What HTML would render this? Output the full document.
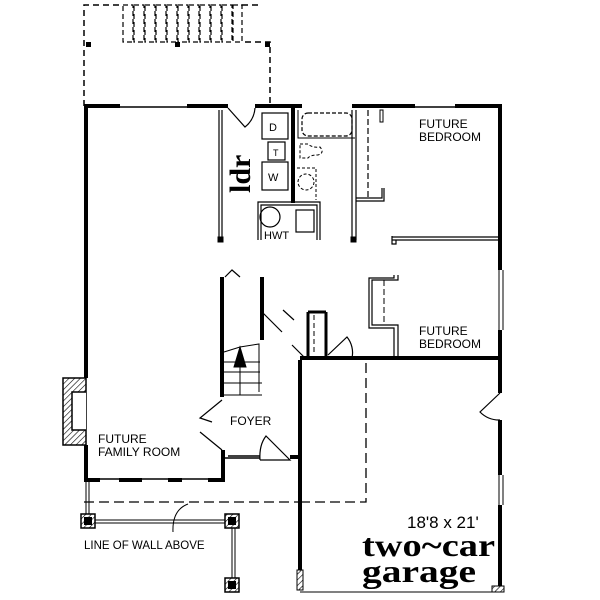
<!DOCTYPE html>
<html><head><meta charset="utf-8"><style>
html,body{margin:0;padding:0;background:#fff;}
svg{display:block}
text{font-family:"Liberation Sans",sans-serif;fill:#000}
</style></head><body>
<svg width="600" height="600" viewBox="0 0 600 600" xmlns="http://www.w3.org/2000/svg">
<defs><pattern id="h" width="4" height="4" patternUnits="userSpaceOnUse" patternTransform="rotate(45)"><rect width="4" height="4" fill="#fff"/><line x1="0" y1="0" x2="0" y2="4" stroke="#000" stroke-width="1.2"/></pattern></defs>
<g fill="none" stroke="#000">
<path d="M84 106 V5 H122 M242 5 H262 M245 42 H270 V106" stroke-width="1.5" stroke-dasharray="6,4"/>
<g stroke-width="1.2" stroke-dasharray="5,3">
<rect x="123" y="5" width="10" height="37"/><rect x="134" y="5" width="10" height="37"/><rect x="145" y="5" width="10" height="37"/><rect x="156" y="5" width="10" height="37"/><rect x="167" y="5" width="10" height="37"/><rect x="178" y="5" width="10" height="37"/><rect x="189" y="5" width="10" height="37"/><rect x="200" y="5" width="10" height="37"/><rect x="211" y="5" width="10" height="37"/><rect x="222" y="5" width="10" height="37"/><rect x="233" y="5" width="9" height="37"/>
</g>
<rect x="86" y="42" width="5" height="5" fill="#000" stroke="none"/>
<rect x="175" y="42" width="5" height="5" fill="#000" stroke="none"/>
<rect x="265" y="42" width="5" height="5" fill="#000" stroke="none"/>
<path d="M84 106 H120 M187 106 H228 M255 106 H302 M352 106 H415 M455 106 H502" stroke-width="4"/>
<path d="M120 107 H187 M415 107 H455" stroke-width="1.5"/>
<path d="M86 106 V378 M86 445 V480" stroke-width="4"/>
<path d="M84 480 H100 M119 480 H142 M168 480 H182 M208 480 H225 M223 480 V450" stroke-width="4"/>
<path d="M100 479 H119 M142 479 H168 M182 479 H208" stroke-width="1.5"/>
<path d="M500 106 V270 M500 330 V393 M500 420 V475 M500 505 V590" stroke-width="4"/>
<path d="M499 270 V330 M503 270 V330 M499 475 V505 M503 475 V505" stroke-width="1"/>
<path d="M300 360 V590 M300 358 H502" stroke-width="4"/>
<path d="M300 592 H502" stroke-width="1"/>
<rect x="63" y="378" width="23" height="67" fill="url(#h)" stroke-width="1.5"/>
<path d="M86 392 H72 V430 H86" stroke-width="1.5" fill="#fff"/>
<path d="M219 110 V240 M222 110 V240" stroke-width="1.2"/>
<rect x="218" y="237" width="5" height="5" fill="#000"/>
<path d="M228 108 L245 127 A27 27 0 0 0 255 108" stroke-width="1.2"/>
<rect x="262" y="113" width="26" height="26" stroke-width="1.2"/>
<rect x="268" y="142" width="17" height="18" stroke-width="1.2"/>
<rect x="262" y="162" width="26" height="28" stroke-width="1.2"/>
<path d="M293 106 V203" stroke-width="4"/>
<path d="M258 240 V202 H320 V240 M261 240 V205 H317 V240" stroke-width="1.2"/>
<circle cx="270" cy="217" r="10" stroke-width="1.2"/>
<rect x="296" y="210" width="18" height="22" stroke-width="1.2"/>
<rect x="302" y="113" width="50" height="23" rx="6" stroke-width="1.2" stroke-dasharray="4,2"/>
<path d="M298 110 V138 H355" stroke-width="1"/>
<path d="M300 144 h8 q4 4 12 3 q5 6 -2 8 q-8 0 -10 3 h-8 z" stroke-width="1" stroke-dasharray="3,2"/>
<path d="M297 168 H316 V200" stroke-width="1" stroke-dasharray="3,2"/>
<circle cx="306" cy="182" r="8" stroke-width="1" stroke-dasharray="3,2"/>
<path d="M352 110 V240 M356 110 V240" stroke-width="1.2"/>
<rect x="351" y="237" width="5" height="5" fill="#000"/>
<path d="M368 110 V198" stroke-width="1.2" stroke-dasharray="6,3"/>
<path d="M356 198 H382 V188 M356 201 H384 V188" stroke-width="1.2"/>
<rect x="380" y="110" width="3" height="12" stroke-width="1"/>
<path d="M392 237 H500 M392 240 H500" stroke-width="1.2"/>
<path d="M392 236 V244 H396 V240" stroke-width="1.2"/>
<path d="M398 275 V280 H372 V325 H398 V358 M394 275 V278 H369 V328 H394 V358" stroke-width="1.2"/>
<path d="M384 280 V325" stroke-width="1" stroke-dasharray="6,3"/>
<path d="M222 277 V397 M262 277 V340" stroke-width="4"/>
<path d="M225 277 L232 270 L240 277" stroke-width="1.2"/>
<path d="M224 352 L240 347 L259 344 V392" stroke-width="1"/>
<path d="M224 362 H260 M224 372 H260 M224 383 H262 M224 395 H262 M240 395 V350" stroke-width="1"/>
<path d="M240 347 L234 367 H246 Z" fill="#000"/>
<path d="M262 312 L282 332 M283 310 L294 320 M292 345 L304 357" stroke-width="1.2"/>
<path d="M308 312 V358 M326 312 H308 M326 312 V358" stroke-width="3"/>
<path d="M314 315 V355" stroke-width="1" stroke-dasharray="5,3"/>
<path d="M328 355 L347 337 A25 25 0 0 1 352 358" stroke-width="1.2"/>
<path d="M222 400 L200 418 L212 422 M200 432 L222 450" stroke-width="1.2"/>
<path d="M228 456 H260 M225 458 H260" stroke-width="1.5"/>
<path d="M260 460 H290 L266 436 Q259 445 260 460" stroke-width="1.2"/>
<path d="M290 457 H300" stroke-width="4"/>
<path d="M84 502 H300 M300 502 H366 V360" stroke-width="1.3" stroke-dasharray="10,5"/>
<path d="M173 532 Q172 510 188 504" stroke-width="1"/>
<path d="M86 482 V520 M89 482 V520" stroke-width="1"/>
<path d="M95 520 H228 M95 523 H228 M232 526 V580 M235 526 V580" stroke-width="1"/>
<rect x="81" y="514" width="14" height="14" fill="url(#h)" stroke-width="1.5"/>
<rect x="225" y="514" width="14" height="14" fill="url(#h)" stroke-width="1.5"/>
<rect x="225" y="578" width="14" height="14" fill="url(#h)" stroke-width="1.5"/>
<rect x="84" y="517" width="8" height="8" fill="#000" stroke="none"/>
<rect x="228" y="517" width="8" height="8" fill="#000" stroke="none"/>
<rect x="228" y="581" width="8" height="8" fill="#000" stroke="none"/>
<rect x="297" y="570" width="6" height="20" fill="url(#h)" stroke-width="1"/>
<rect x="492" y="586" width="12" height="6" fill="url(#h)" stroke-width="1"/>
<path d="M500 393 L480 412 A27 27 0 0 0 500 420" stroke-width="1.2"/>
</g>
<text transform="translate(250,193) rotate(-90)" font-weight="bold" font-size="30" style="font-family:'Liberation Serif',serif">ldr</text>
<text x="264" y="239" font-size="11">HWT</text>
<text x="269" y="131" font-size="11">D</text>
<text x="273" y="156" font-size="9">T</text>
<text x="268" y="181" font-size="11">W</text>
<text x="419" y="128" font-size="12">FUTURE</text>
<text x="419" y="141" font-size="12">BEDROOM</text>
<text x="419" y="335" font-size="12">FUTURE</text>
<text x="419" y="348" font-size="12">BEDROOM</text>
<text x="230" y="425" font-size="12">FOYER</text>
<text x="98" y="443" font-size="12">FUTURE</text>
<text x="98" y="456" font-size="12">FAMILY ROOM</text>
<text x="84" y="549" font-size="11.5">LINE OF WALL ABOVE</text>
<text x="407" y="528" font-size="17">18'8 x 21'</text>
<text x="362" y="556" font-size="32" font-weight="bold" textLength="133" lengthAdjust="spacingAndGlyphs" style="font-family:'Liberation Serif',serif">two~car</text>
<text x="362" y="582" font-size="32" font-weight="bold" textLength="114" lengthAdjust="spacingAndGlyphs" style="font-family:'Liberation Serif',serif">garage</text>
</svg>
</body></html>
